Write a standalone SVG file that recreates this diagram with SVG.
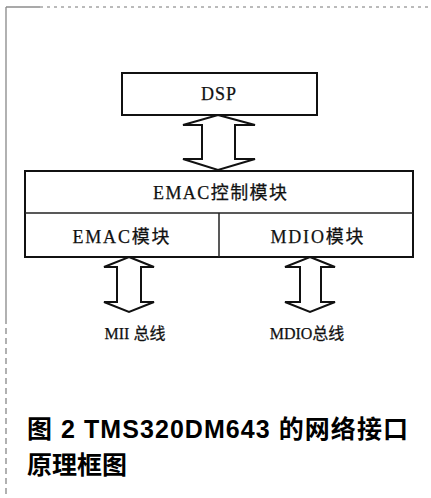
<svg xmlns="http://www.w3.org/2000/svg" width="431" height="498" viewBox="0 0 431 498">
<style>
.box{fill:#fff;stroke:#111;stroke-width:2}
.div{fill:none;stroke:#222;stroke-width:1.5}
.arr{fill:#fff;stroke:#111;stroke-width:2;stroke-linejoin:miter}
.lbl{font-family:"Liberation Serif","Noto Sans CJK SC",serif;fill:#111;text-anchor:middle;stroke:#111;stroke-width:0.25}
.cap{font-family:"Liberation Sans","Noto Sans CJK SC",sans-serif;font-weight:bold;fill:#000;font-size:25px}
</style>
<rect width="431" height="498" fill="#fff"/>
<g id="frame">
<line x1="6" y1="7" x2="40" y2="7" stroke="#555" stroke-width="1.2"/>
<line x1="40" y1="7" x2="431" y2="7" stroke="#777" stroke-width="1" stroke-dasharray="3 4"/>
<line x1="6" y1="7" x2="6" y2="318" stroke="#888" stroke-width="1.3"/>
<line x1="6" y1="318" x2="6" y2="498" stroke="#888" stroke-width="1.3" stroke-dasharray="6 4"/>
</g>
<g id="dsp">
<rect class="box" x="122" y="73" width="195" height="42"/>
<text class="lbl" x="219" y="100" font-size="18" letter-spacing="1">DSP</text>
</g>
<g id="emac-ctrl">
<rect class="box" x="25" y="171" width="388" height="86"/>
<line class="div" x1="25" y1="213" x2="413" y2="213"/>
<text class="lbl" x="220" y="199" font-size="18" textLength="134" lengthAdjust="spacing">EMAC控制模块</text>
</g>
<g id="emac">
<line class="div" x1="219" y1="213" x2="219" y2="257"/>
<text class="lbl" x="121" y="243" font-size="18" textLength="97" lengthAdjust="spacing">EMAC模块</text>
</g>
<g id="mdio">
<text class="lbl" x="317" y="243" font-size="18" textLength="93" lengthAdjust="spacing">MDIO模块</text>
</g>
<g id="mii-bus">
<text class="lbl" x="135" y="339" font-size="16">MII 总线</text>
</g>
<g id="mdio-bus">
<text class="lbl" x="307" y="339" font-size="16">MDIO总线</text>
</g>
<g id="connectors">
<polygon class="arr" points="218,115 255,125 235,125 235,159 255,159 218,170 183,159 202,159 202,125 183,125"/>
<polygon class="arr" points="129,257 154,267 141,267 141,302 154,302 129,312 104,302 117,302 117,267 104,267"/>
<polygon class="arr" points="310,257 335,267 321,267 321,302 335,302 310,312 285,302 300,302 300,267 285,267"/>
</g>
<g id="caption">
<text class="cap" x="27" y="438" textLength="381" lengthAdjust="spacing">图 2 TMS320DM643 的网络接口</text>
<text class="cap" x="27" y="474">原理框图</text>
</g>
</svg>
